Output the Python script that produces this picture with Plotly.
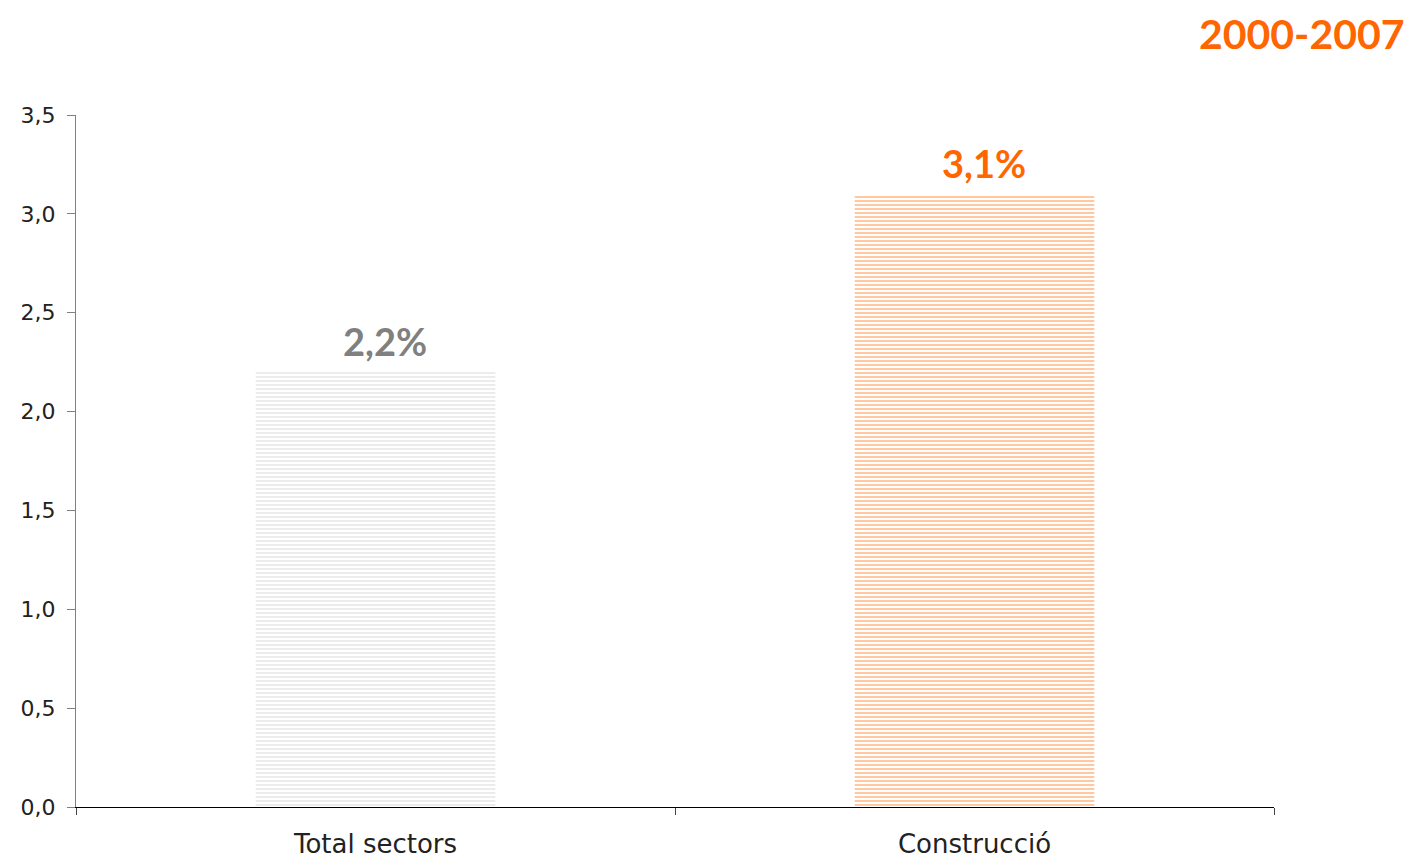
import plotly.graph_objects as go

categories = ["Total sectors", "Construcció"]
values = [2.2, 3.1]
labels = ["2,2%", "3,1%"]
bar_fg = ["#d0d0d0", "#ff8a3d"]
bar_bg = ["#ececec", "#ffc8a0"]
label_colors = ["#808080", "#ff6600"]
y_ticks = [0, 0.5, 1.0, 1.5, 2.0, 2.5, 3.0, 3.5]
title_text = "2000-2007"

BOLD_FONT = "Lato, 'DejaVu Sans', sans-serif"
TICK_FONT = "'DejaVu Sans', sans-serif"

fig = go.Figure()
fig.add_trace(go.Bar(
    x=categories,
    y=values,
    width=0.4,
    marker=dict(
        color=bar_bg,
        line=dict(width=0),
        pattern=dict(shape="-", fgcolor=bar_fg, bgcolor=bar_bg, size=4, solidity=0.5, fillmode="replace"),
    ),
    hoverinfo="skip",
))

annotations = []
for cat, val, lab, col in zip(categories, values, labels, label_colors):
    annotations.append(dict(
        x=cat, y=val, xref="x", yref="y", text="<b>" + lab + "</b>",
        showarrow=False, xanchor="center", yanchor="bottom", yshift=6, xshift=9,
        font=dict(family=BOLD_FONT, size=38, color=col),
    ))
annotations.append(dict(
    text="<b>" + title_text + "</b>", xref="paper", yref="paper",
    x=1.110, y=1.1546, xanchor="right", yanchor="top", showarrow=False,
    borderpad=0,
    font=dict(family=BOLD_FONT, size=41, color="#ff6600"),
))

# the page body adds an 8px offset; figure size and margins compensate for it
fig.update_layout(
    width=1408, height=858,
    margin=dict(l=68, r=142, t=107, b=59, autoexpand=False),
    paper_bgcolor="white", plot_bgcolor="white",
    separators=",.",
    showlegend=False,
    font=dict(family=TICK_FONT, color="#222222"),
    annotations=annotations,
)
fig.update_xaxes(
    automargin=False,
    showline=True, linecolor="#000000", linewidth=1.3,
    ticks="outside", tickson="boundaries", ticklen=7, tickcolor="#444444",
    tickfont=dict(family=TICK_FONT, size=26, color="#222222"),
    ticklabelstandoff=14,
    showgrid=False,
)
fig.update_yaxes(
    automargin=False,
    range=[0, 3.5], tickvals=y_ticks, tickformat=".1f",
    showline=True, linecolor="#808080", linewidth=1.3,
    ticks="outside", ticklen=8, tickcolor="#808080",
    tickfont=dict(family=TICK_FONT, size=22, color="#222222"),
    ticklabelstandoff=7,
    showgrid=False, zeroline=False,
)

fig.write_html("out.html")
